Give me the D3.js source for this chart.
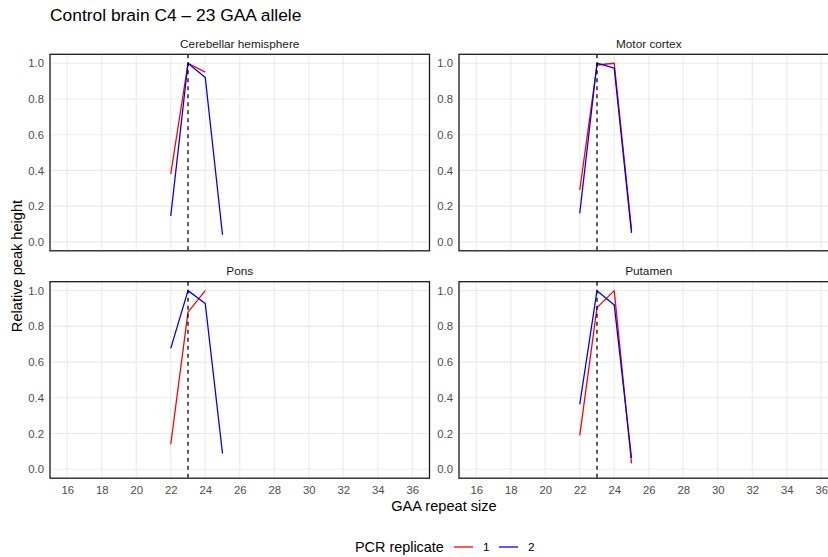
<!DOCTYPE html>
<html>
<head>
<meta charset="utf-8">
<script src="https://cdn.jsdelivr.net/npm/d3@7"></script>
<style>
  body { margin: 0; background: #fff; }
  svg { display: block; font-family: "Liberation Sans", Arial, sans-serif; }
</style>
</head>
<body>
<svg id="chart" width="828" height="557"></svg>
<script>
// Relative peak heights per brain region, per PCR replicate
const regions = ["Cerebellar hemisphere", "Motor cortex", "Pons", "Putamen"];
const replicates = ["1", "2"];
const replicateColors = ["#ff0000", "#0000ff"];

const sizesRep1 = [
  [22, 23, 24],
  [22, 23, 24, 25],
  [22, 23, 24],
  [22, 23, 24, 25]
];
const heightsRep1 = [
  [0.38, 1.0, 0.95],
  [0.29, 0.99, 1.0, 0.07],
  [0.14, 0.88, 1.0],
  [0.19, 0.905, 1.0, 0.033]
];
const sizesRep2 = [
  [22, 23, 24, 25],
  [22, 23, 24, 25],
  [22, 23, 24, 25],
  [22, 23, 24, 25]
];
const heightsRep2 = [
  [0.145, 1.0, 0.92, 0.04],
  [0.16, 1.0, 0.972, 0.05],
  [0.677, 1.0, 0.928, 0.088],
  [0.364, 1.0, 0.92, 0.063]
];

const alleleSize = 23;
const xTicks = [16, 18, 20, 22, 24, 26, 28, 30, 32, 34, 36];
const yTicks = [0.0, 0.2, 0.4, 0.6, 0.8, 1.0];

const svg = d3.select("#chart");

// facet layout
const panelW = 379.5, panelH = 196.5;
const panelX = [50, 459];
const panelY = [54.3, 281.7];

const x = d3.scaleLinear().domain([15, 37]).range([0, panelW]);
const y = d3.scaleLinear().domain([-0.05, 1.05]).range([panelH, 0]);

const line = d3.line().x(d => x(d[0])).y(d => y(d[1]));

// title
svg.append("text")
  .attr("x", 50).attr("y", 21)
  .attr("font-size", 17.4).attr("fill", "#000")
  .text("Control brain C4 \u2013 23 GAA allele");

regions.forEach((name, i) => {
  const col = i % 2, row = Math.floor(i / 2);
  const g = svg.append("g").attr("transform", `translate(${panelX[col]},${panelY[row]})`);

  const clipId = "clip" + i;
  g.append("clipPath").attr("id", clipId)
    .append("rect").attr("width", panelW).attr("height", panelH);

  const inner = g.append("g").attr("clip-path", `url(#${clipId})`);

  // grid
  inner.append("g").selectAll("line").data(xTicks).join("line")
    .attr("x1", d => x(d)).attr("x2", d => x(d))
    .attr("y1", 0).attr("y2", panelH)
    .attr("stroke", "#ebebeb").attr("stroke-width", 1.1);
  inner.append("g").selectAll("line").data(yTicks).join("line")
    .attr("y1", d => y(d)).attr("y2", d => y(d))
    .attr("x1", 0).attr("x2", panelW)
    .attr("stroke", "#ebebeb").attr("stroke-width", 1.1);

  // replicate traces
  const series = [
    sizesRep1[i].map((s, k) => [s, heightsRep1[i][k]]),
    sizesRep2[i].map((s, k) => [s, heightsRep2[i][k]])
  ];
  series.forEach((pts, r) => {
    inner.append("path").datum(pts)
      .attr("d", line)
      .attr("fill", "none")
      .attr("stroke", replicateColors[r])
      .attr("stroke-width", 1.3)
      .attr("stroke-linejoin", "round");
  });

  // reference allele line
  inner.append("line")
    .attr("x1", x(alleleSize)).attr("x2", x(alleleSize))
    .attr("y1", 0).attr("y2", panelH)
    .attr("stroke", "#000").attr("stroke-width", 1.3)
    .attr("stroke-dasharray", "4,4");

  // border
  g.append("rect").attr("width", panelW).attr("height", panelH)
    .attr("fill", "none").attr("stroke", "#1a1a1a").attr("stroke-width", 1.3);

  // strip label
  g.append("text")
    .attr("x", panelW / 2).attr("y", -6.7)
    .attr("text-anchor", "middle").attr("font-size", 11.8).attr("fill", "#1a1a1a")
    .text(name);

  // y axis labels
  const yAxis = d3.axisLeft(y).tickValues(yTicks).tickFormat(d3.format(".1f"))
    .tickSize(0).tickPadding(6);
  const ya = g.append("g").call(yAxis);
  ya.select(".domain").remove();
  ya.selectAll("text").attr("font-size", 11.3).attr("fill", "#4d4d4d")
    .attr("font-family", "Liberation Sans, Arial, sans-serif");

  // x axis labels on bottom row only
  if (row === 1) {
    const xAxis = d3.axisBottom(x).tickValues(xTicks).tickFormat(d3.format("d"))
      .tickSize(0).tickPadding(7.5);
    const xa = g.append("g").attr("transform", `translate(0,${panelH})`).call(xAxis);
    xa.select(".domain").remove();
    xa.selectAll("text").attr("font-size", 11.3).attr("fill", "#4d4d4d")
      .attr("font-family", "Liberation Sans, Arial, sans-serif");
  }
});

// axis titles
svg.append("text")
  .attr("x", 444).attr("y", 511)
  .attr("text-anchor", "middle").attr("font-size", 14.6).attr("fill", "#000")
  .text("GAA repeat size");

svg.append("text")
  .attr("transform", "translate(22,266) rotate(-90)")
  .attr("text-anchor", "middle").attr("font-size", 14.6).attr("fill", "#000")
  .text("Relative peak height");

// legend
const legend = svg.append("g");
legend.append("text")
  .attr("x", 355).attr("y", 551.5)
  .attr("font-size", 14.4).attr("fill", "#000")
  .text("PCR replicate");
const legendX = [454, 499];
replicates.forEach((r, k) => {
  legend.append("line")
    .attr("x1", legendX[k]).attr("x2", legendX[k] + 19)
    .attr("y1", 547).attr("y2", 547)
    .attr("stroke", replicateColors[k]).attr("stroke-width", 1.3);
  legend.append("text")
    .attr("x", legendX[k] + 29).attr("y", 551)
    .attr("font-size", 11.8).attr("fill", "#000")
    .text(r);
});
</script>
</body>
</html>
